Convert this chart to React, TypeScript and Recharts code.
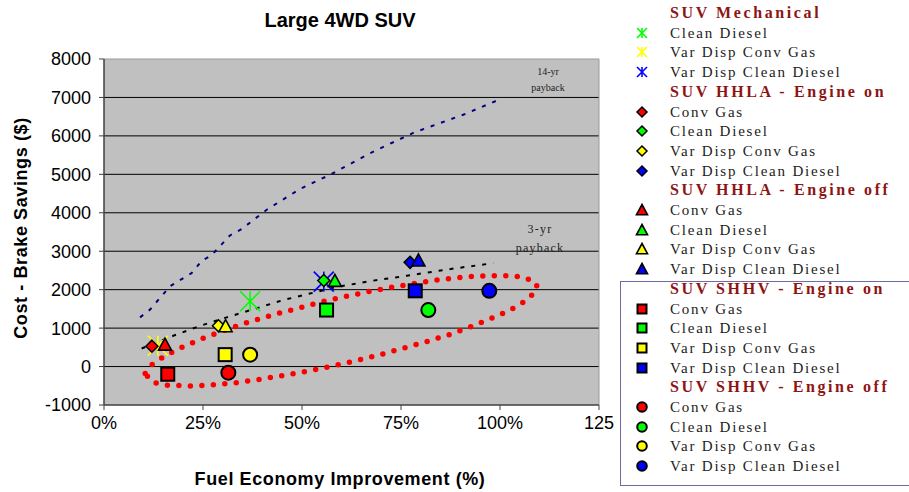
import React from 'react';
import { ComposedChart, Scatter, Line, XAxis, YAxis, CartesianGrid, Legend, ReferenceLine } from 'recharts';

// ---------- data ----------
const xTicks = [0, 25, 50, 75, 100, 125];
const yTicks = [-1000, 0, 1000, 2000, 3000, 4000, 5000, 6000, 7000, 8000];
const gridValues = [0, 1000, 2000, 3000, 4000, 5000, 6000, 7000];

const mechCleanDiesel = [{ x: 36.9, y: 1700 }];
const mechVarDispConvGas = [{ x: 13.6, y: 540 }];
const mechVarDispCleanDiesel = [{ x: 55.5, y: 2210 }];

const hhlaOnConvGas = [{ x: 12.1, y: 530 }];
const hhlaOnCleanDiesel = [{ x: 55.5, y: 2240 }];
const hhlaOnVarDispConvGas = [{ x: 28.9, y: 1060 }];
const hhlaOnVarDispCleanDiesel = [{ x: 77.3, y: 2710 }];

const hhlaOffConvGas = [{ x: 15.4, y: 570 }];
const hhlaOffCleanDiesel = [{ x: 58.3, y: 2230 }];
const hhlaOffVarDispConvGas = [{ x: 30.7, y: 1050 }];
const hhlaOffVarDispCleanDiesel = [{ x: 79.4, y: 2760 }];

const shhvOnConvGas = [{ x: 16.1, y: -200 }];
const shhvOnCleanDiesel = [{ x: 56.2, y: 1470 }];
const shhvOnVarDispConvGas = [{ x: 30.6, y: 310 }];
const shhvOnVarDispCleanDiesel = [{ x: 78.6, y: 1970 }];

const shhvOffConvGas = [{ x: 31.4, y: -160 }];
const shhvOffCleanDiesel = [{ x: 81.9, y: 1470 }];
const shhvOffVarDispConvGas = [{ x: 36.9, y: 310 }];
const shhvOffVarDispCleanDiesel = [{ x: 97.3, y: 1970 }];

const payback14yr = [
  { x: 9.1, y: 1280 }, { x: 11.6, y: 1480 }, { x: 16.7, y: 2090 }, { x: 22.1, y: 2430 },
  { x: 24.7, y: 2750 }, { x: 27.2, y: 2900 }, { x: 31.8, y: 3410 }, { x: 34.8, y: 3580 },
  { x: 41.1, y: 4080 }, { x: 49.5, y: 4620 }, { x: 57.1, y: 4990 }, { x: 67.4, y: 5560 },
  { x: 78.1, y: 6080 }, { x: 90.7, y: 6550 }, { x: 99.0, y: 6910 },
];

const payback3yr = [
  { x: 9.5, y: 470 }, { x: 17.5, y: 800 }, { x: 24, y: 1050 }, { x: 31, y: 1280 },
  { x: 38, y: 1500 }, { x: 45.3, y: 1730 }, { x: 52, y: 1900 }, { x: 58.3, y: 2060 },
  { x: 67, y: 2220 }, { x: 76.4, y: 2360 }, { x: 87, y: 2530 }, { x: 98.3, y: 2690 },
];

const shhvEllipse = [
  { x: 10.4, y: -183 }, { x: 12.2, y: 60 }, { x: 14.8, y: 235 }, { x: 17.5, y: 391 },
  { x: 20.2, y: 529 }, { x: 25.9, y: 772 }, { x: 31.6, y: 990 }, { x: 37.5, y: 1189 },
  { x: 43.3, y: 1364 }, { x: 49.1, y: 1520 }, { x: 55, y: 1685 }, { x: 60.7, y: 1815 },
  { x: 66.7, y: 1946 }, { x: 72.6, y: 2060 }, { x: 78.7, y: 2164 }, { x: 84.7, y: 2258 },
  { x: 90.7, y: 2329 }, { x: 96.9, y: 2363 }, { x: 103, y: 2363 }, { x: 106, y: 2320 },
  { x: 108.8, y: 2206 }, { x: 109.4, y: 2070 }, { x: 108.8, y: 1930 }, { x: 106.5, y: 1711 },
  { x: 104, y: 1554 }, { x: 101.3, y: 1408 }, { x: 98.3, y: 1277 }, { x: 92.8, y: 1043 },
  { x: 87, y: 824 }, { x: 81.2, y: 641 }, { x: 75.3, y: 469 }, { x: 69.3, y: 295 },
  { x: 63.4, y: 146 }, { x: 57.5, y: 8 }, { x: 51.6, y: -115 }, { x: 45.5, y: -227 },
  { x: 39.4, y: -331 }, { x: 33.5, y: -417 }, { x: 27.2, y: -480 }, { x: 21.3, y: -506 },
  { x: 15.2, y: -480 }, { x: 12.2, y: -402 },
];

const legendRows = [
  { kind: 'header', text: 'SUV Mechanical' },
  { kind: 'asterisk', color: '#00FF00', text: 'Clean Diesel' },
  { kind: 'asterisk', color: '#FFFF00', text: 'Var Disp Conv Gas' },
  { kind: 'asterisk', color: '#0000FF', text: 'Var Disp Clean Diesel' },
  { kind: 'header', text: 'SUV HHLA - Engine on' },
  { kind: 'diamond', color: '#FF0000', text: 'Conv Gas' },
  { kind: 'diamond', color: '#00FF00', text: 'Clean Diesel' },
  { kind: 'diamond', color: '#FFFF00', text: 'Var Disp Conv Gas' },
  { kind: 'diamond', color: '#0000FF', text: 'Var Disp Clean Diesel' },
  { kind: 'header', text: 'SUV HHLA - Engine off' },
  { kind: 'triangle', color: '#FF0000', text: 'Conv Gas' },
  { kind: 'triangle', color: '#00FF00', text: 'Clean Diesel' },
  { kind: 'triangle', color: '#FFFF00', text: 'Var Disp Conv Gas' },
  { kind: 'triangle', color: '#0000FF', text: 'Var Disp Clean Diesel' },
  { kind: 'header', text: 'SUV SHHV - Engine on' },
  { kind: 'square', color: '#FF0000', text: 'Conv Gas' },
  { kind: 'square', color: '#00FF00', text: 'Clean Diesel' },
  { kind: 'square', color: '#FFFF00', text: 'Var Disp Conv Gas' },
  { kind: 'square', color: '#0000FF', text: 'Var Disp Clean Diesel' },
  { kind: 'header', text: 'SUV SHHV - Engine off' },
  { kind: 'circle', color: '#FF0000', text: 'Conv Gas' },
  { kind: 'circle', color: '#00FF00', text: 'Clean Diesel' },
  { kind: 'circle', color: '#FFFF00', text: 'Var Disp Conv Gas' },
  { kind: 'circle', color: '#0000FF', text: 'Var Disp Clean Diesel' },
];

// ---------- marker shapes ----------
function drawMarker(kind: string, color: string, cx: number, cy: number, s: number) {
  if (kind === 'asterisk') {
    return (
      <g stroke={color} strokeWidth={1.6}>
        <line x1={cx} y1={cy - s} x2={cx} y2={cy + s} />
        <line x1={cx - s} y1={cy - s} x2={cx + s} y2={cy + s} />
        <line x1={cx - s} y1={cy + s} x2={cx + s} y2={cy - s} />
      </g>
    );
  }
  if (kind === 'diamond') {
    return (
      <polygon
        points={`${cx},${cy - s} ${cx + s},${cy} ${cx},${cy + s} ${cx - s},${cy}`}
        fill={color}
        stroke="#000"
        strokeWidth={1.5}
      />
    );
  }
  if (kind === 'triangle') {
    return (
      <polygon
        points={`${cx},${cy - s} ${cx + s},${cy + s * 0.85} ${cx - s},${cy + s * 0.85}`}
        fill={color}
        stroke="#000"
        strokeWidth={1.6}
        strokeLinejoin="miter"
      />
    );
  }
  if (kind === 'square') {
    return <rect x={cx - s} y={cy - s} width={2 * s} height={2 * s} fill={color} stroke="#000" strokeWidth={2} />;
  }
  return <circle cx={cx} cy={cy} r={s} fill={color} stroke="#000" strokeWidth={2} />;
}

const markerShape = (kind: string, color: string, s: number) => (props: any) => {
  const { cx, cy } = props;
  if (cx == null || cy == null) return <g />;
  return drawMarker(kind, color, cx, cy, s);
};

const legendMarkerSize: Record<string, number> = {
  asterisk: 5,
  diamond: 5,
  triangle: 5.5,
  square: 4.5,
  circle: 4.8,
};

const LegendContent = () => {
  const rowH = 19.7;
  const firstY = 13;
  return (
    <div style={{ position: 'relative', width: 309, height: 492 }}>
      <div
        style={{
          position: 'absolute',
          left: 20,
          top: 281,
          width: 300,
          height: 205,
          border: '1px solid #6B6BA8',
          boxSizing: 'border-box',
        }}
      />
      {legendRows.map((r, i) => {
        const cy = firstY + i * rowH;
        const isHeader = r.kind === 'header';
        return (
          <div key={i} style={{ position: 'absolute', left: 0, top: cy - 10, height: 20, width: 309 }}>
            {!isHeader && (
              <svg width={20} height={20} style={{ position: 'absolute', left: 32, top: 0 }}>
                {drawMarker(r.kind, (r as any).color, 10, 10, legendMarkerSize[r.kind])}
              </svg>
            )}
            <div
              style={{
                position: 'absolute',
                left: 70,
                top: 0,
                height: 20,
                lineHeight: '20px',
                whiteSpace: 'nowrap',
                fontFamily: '"Liberation Serif", "Times New Roman", serif',
                fontSize: isHeader ? 16 : 15,
                fontWeight: isHeader ? 'bold' : 'normal',
                letterSpacing: isHeader ? 2.6 : 1.8,
                color: isHeader ? '#8E1414' : '#222',
              }}
            >
              {r.text}
            </div>
          </div>
        );
      })}
    </div>
  );
};

const sansFont = '"Liberation Sans", Arial, sans-serif';

export default function App() {
  return (
    <div style={{ position: 'absolute', left: 0, top: 0, width: 909, height: 492, background: '#fff', overflow: 'hidden' }}>
      <ComposedChart width={909} height={492} margin={{ top: 59, right: 310, bottom: 57, left: 44 }}>
        <CartesianGrid vertical={false} horizontal={false} fill="#C0C0C0" fillOpacity={1} />
        <XAxis
          type="number"
          dataKey="x"
          domain={[0, 125]}
          ticks={xTicks}
          interval={0}
          height={30}
          allowDataOverflow
          tickFormatter={(v: number) => (v === 125 ? '125' : `${v}%`)}
          tick={{ fontSize: 18, fill: '#000', fontFamily: sansFont }}
          tickSize={5}
          tickMargin={6}
          axisLine={{ stroke: '#404040', strokeWidth: 1.5 }}
          tickLine={{ stroke: '#404040' }}
        />
        <YAxis
          type="number"
          dataKey="y"
          domain={[-1000, 8000]}
          ticks={yTicks}
          interval={0}
          width={60}
          allowDataOverflow
          tick={{ fontSize: 18, fill: '#000', fontFamily: sansFont }}
          tickSize={5}
          tickMargin={8}
          axisLine={{ stroke: '#404040', strokeWidth: 1.5 }}
          tickLine={{ stroke: '#404040' }}
        />
        {gridValues.map((v) => (
          <ReferenceLine key={`g${v}`} y={v} stroke="#000" strokeWidth={1} />
        ))}
        <ReferenceLine y={8000} stroke="#9A9A9A" strokeWidth={1} />
        <ReferenceLine x={125} stroke="#9A9A9A" strokeWidth={1} />

        <Line data={payback14yr} dataKey="y" type="linear" stroke="#000080" strokeWidth={2} strokeDasharray="4 7" dot={false} activeDot={false} isAnimationActive={false} legendType="none" />
        <Line data={payback3yr} dataKey="y" type="linear" stroke="#000000" strokeWidth={2} strokeDasharray="4 7" dot={false} activeDot={false} isAnimationActive={false} legendType="none" />

        <Scatter data={mechCleanDiesel} dataKey="y" shape={markerShape('asterisk', '#00FF00', 10)} isAnimationActive={false} legendType="none" />
        <Scatter data={mechVarDispConvGas} dataKey="y" shape={markerShape('asterisk', '#FFFF00', 10)} isAnimationActive={false} legendType="none" />
        <Scatter data={mechVarDispCleanDiesel} dataKey="y" shape={markerShape('asterisk', '#0000FF', 10)} isAnimationActive={false} legendType="none" />

        <Scatter data={hhlaOnConvGas} dataKey="y" shape={markerShape('diamond', '#FF0000', 6)} isAnimationActive={false} legendType="none" />
        <Scatter data={hhlaOnCleanDiesel} dataKey="y" shape={markerShape('diamond', '#00FF00', 6)} isAnimationActive={false} legendType="none" />
        <Scatter data={hhlaOnVarDispConvGas} dataKey="y" shape={markerShape('diamond', '#FFFF00', 6)} isAnimationActive={false} legendType="none" />
        <Scatter data={hhlaOnVarDispCleanDiesel} dataKey="y" shape={markerShape('diamond', '#0000FF', 6)} isAnimationActive={false} legendType="none" />

        <Scatter data={hhlaOffConvGas} dataKey="y" shape={markerShape('triangle', '#FF0000', 6.5)} isAnimationActive={false} legendType="none" />
        <Scatter data={hhlaOffCleanDiesel} dataKey="y" shape={markerShape('triangle', '#00FF00', 6.5)} isAnimationActive={false} legendType="none" />
        <Scatter data={hhlaOffVarDispConvGas} dataKey="y" shape={markerShape('triangle', '#FFFF00', 6.5)} isAnimationActive={false} legendType="none" />
        <Scatter data={hhlaOffVarDispCleanDiesel} dataKey="y" shape={markerShape('triangle', '#0000FF', 6.5)} isAnimationActive={false} legendType="none" />

        <Scatter data={shhvOnConvGas} dataKey="y" shape={markerShape('square', '#FF0000', 6.5)} isAnimationActive={false} legendType="none" />
        <Scatter data={shhvOnCleanDiesel} dataKey="y" shape={markerShape('square', '#00FF00', 6.5)} isAnimationActive={false} legendType="none" />
        <Scatter data={shhvOnVarDispConvGas} dataKey="y" shape={markerShape('square', '#FFFF00', 6.5)} isAnimationActive={false} legendType="none" />
        <Scatter data={shhvOnVarDispCleanDiesel} dataKey="y" shape={markerShape('square', '#0000FF', 6.5)} isAnimationActive={false} legendType="none" />

        <Scatter data={shhvOffConvGas} dataKey="y" shape={markerShape('circle', '#FF0000', 7)} isAnimationActive={false} legendType="none" />
        <Scatter data={shhvOffCleanDiesel} dataKey="y" shape={markerShape('circle', '#00FF00', 7)} isAnimationActive={false} legendType="none" />
        <Scatter data={shhvOffVarDispConvGas} dataKey="y" shape={markerShape('circle', '#FFFF00', 7)} isAnimationActive={false} legendType="none" />
        <Scatter data={shhvOffVarDispCleanDiesel} dataKey="y" shape={markerShape('circle', '#0000FF', 7)} isAnimationActive={false} legendType="none" />

        <Line data={shhvEllipse} dataKey="y" type="linearClosed" stroke="#FF0000" strokeWidth={5.5} strokeLinecap="round" strokeDasharray="0 11.5" dot={false} activeDot={false} isAnimationActive={false} legendType="none" />

        <Legend
          layout="vertical"
          align="center"
          verticalAlign="middle"
          content={LegendContent}
          wrapperStyle={{ position: 'absolute', left: 600, top: 0, width: 309, height: 492 }}
        />
      </ComposedChart>

      <div style={{ position: 'absolute', left: 240, top: 8, width: 200, textAlign: 'center', fontFamily: sansFont, fontWeight: 'bold', fontSize: 20, lineHeight: '24px', color: '#000' }}>
        Large 4WD SUV
      </div>
      <div style={{ position: 'absolute', left: 140, top: 468, width: 400, textAlign: 'center', fontFamily: sansFont, fontWeight: 'bold', fontSize: 18, lineHeight: '22px', letterSpacing: 0.6, color: '#000' }}>
        Fuel Economy Improvement (%)
      </div>
      <div style={{ position: 'absolute', left: 21 - 150, top: 228 - 11, width: 300, height: 22, textAlign: 'center', fontFamily: sansFont, fontWeight: 'bold', fontSize: 18, lineHeight: '22px', letterSpacing: 0.6, color: '#000', transform: 'rotate(-90deg)', transformOrigin: '150px 11px' }}>
        Cost - Brake Savings ($)
      </div>
      <div style={{ position: 'absolute', left: 500, top: 64, width: 96, textAlign: 'center', fontFamily: '"Liberation Serif", "Times New Roman", serif', fontSize: 10, lineHeight: '16px', color: '#222' }}>
        14-yr<br />payback
      </div>
      <div style={{ position: 'absolute', left: 492, top: 220, width: 96, textAlign: 'center', fontFamily: '"Liberation Serif", "Times New Roman", serif', fontSize: 12, lineHeight: '19px', letterSpacing: 1.2, color: '#222' }}>
        3-yr<br />payback
      </div>
    </div>
  );
}
